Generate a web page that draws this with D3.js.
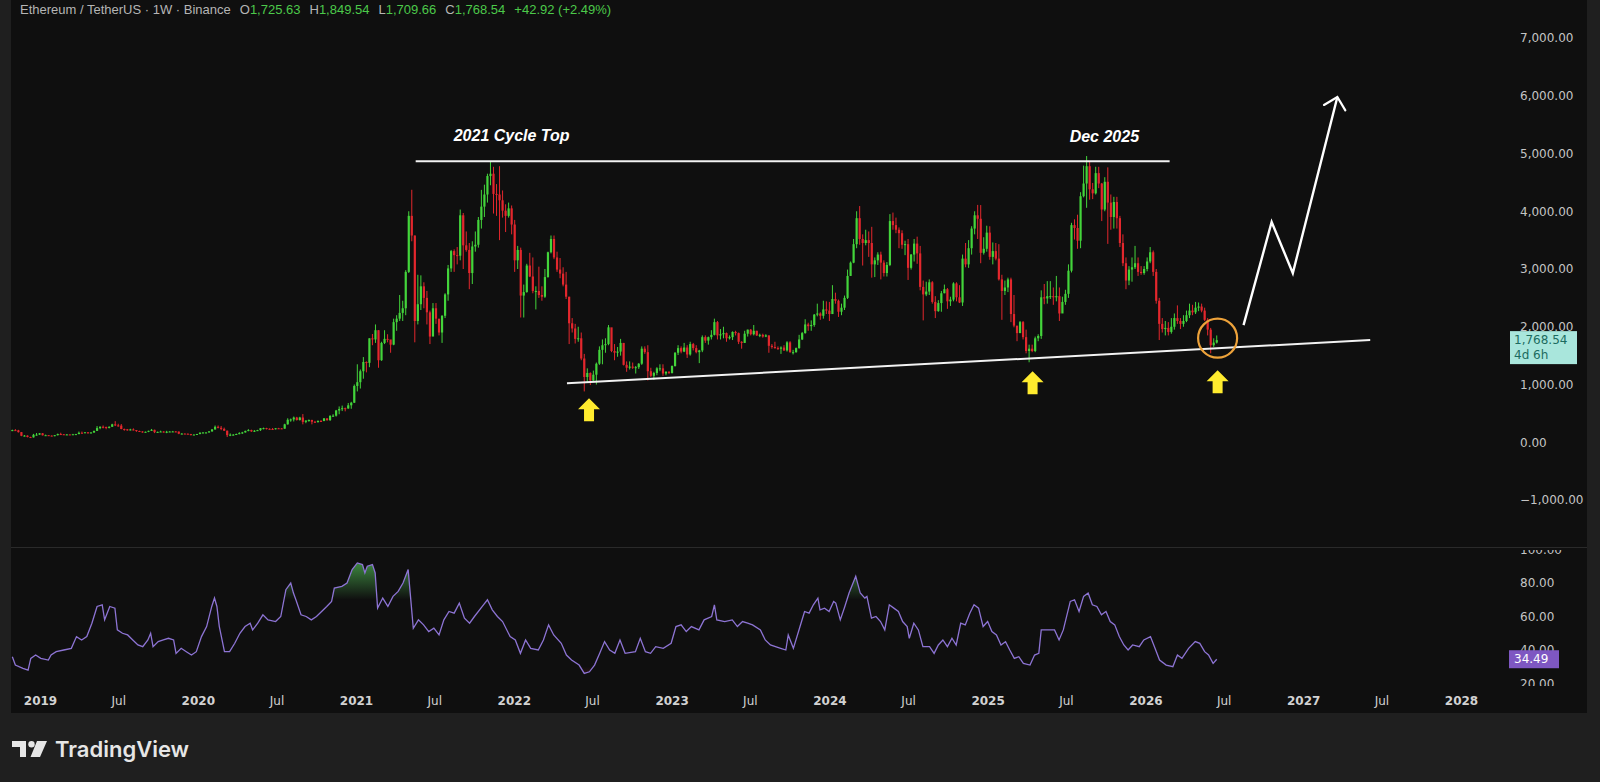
<!DOCTYPE html>
<html>
<head>
<meta charset="utf-8">
<script src="https://cdn.jsdelivr.net/npm/d3@7"></script>
<style>
  html, body { margin: 0; background: #1f1f1f; overflow: hidden; }
  svg { display: block; }
</style>
</head>
<body>
<svg id="chart" width="1600" height="782"></svg>
<script>
// weekly candles (open = previous close)
const firstWeek = "2018-10-29";
const firstOpen = 205;

const closes = [
  210,206,175,112,115,90,84,130,132,155,
  120,122,115,107,122,142,138,132,135,134,
  138,141,164,162,172,155,170,197,245,268,
  265,248,268,310,292,288,229,224,206,222,
  211,195,187,178,181,198,215,174,180,186,
  172,182,186,187,185,148,150,148,141,133,
  133,143,165,169,170,189,223,267,250,231,
  200,123,131,132,143,158,170,197,211,188,
  199,209,243,245,233,230,225,242,240,235,
  310,389,395,428,385,428,353,375,385,355,
  353,368,366,413,384,455,460,550,575,590,
  585,640,685,975,1040,1230,1390,1375,1800,1780,
  1940,1420,1720,1790,1780,1690,2080,2140,2240,2320,
  2950,3920,3580,2100,2390,2700,2500,2250,1830,2320,
  2140,1900,2190,2560,3010,3310,3240,3230,3930,3410,
  3330,2930,3390,3420,3850,4080,4290,4610,4650,4300,
  4290,4190,4010,3920,4050,3770,3150,3330,2540,2600,
  3060,2870,2620,2620,2550,2520,2860,3290,3520,3200,
  2990,2920,2730,2520,2060,1970,1790,1800,1450,1130,
  1200,1070,1170,1360,1600,1680,1700,1990,1580,1550,
  1570,1720,1340,1290,1310,1290,1300,1360,1620,1560,
  1230,1150,1200,1280,1280,1190,1220,1200,1320,1550,
  1630,1570,1640,1520,1700,1630,1560,1590,1820,1760,
  1820,1860,2080,1850,1870,1890,1800,1820,1910,1890,
  1740,1720,1880,1950,1870,1930,1850,1860,1830,1850,
  1670,1650,1630,1620,1640,1590,1730,1560,1560,1630,
  1780,1890,2040,2010,2030,2210,2230,2190,2300,2280,
  2220,2480,2450,2260,2330,2500,2880,3110,3430,3880,
  3520,3450,3500,3450,3080,3150,3250,3110,2930,3070,
  3830,3760,3680,3620,3420,3430,3020,3250,3440,3270,
  2690,2560,2610,2770,2430,2270,2410,2580,2650,2440,
  2470,2750,2510,2420,3180,3080,3360,3700,3930,3870,
  3280,3350,3630,3210,3310,3180,2820,2620,2680,2820,
  2220,2020,1890,2080,1820,1580,1620,1580,1800,1840,
  2510,2490,2530,2530,2510,2530,2230,2430,2570,2970,
  3760,3710,3490,4260,4480,4780,4380,4310,4660,4480,
  4030,4510,4150,3900,4160,3880,3450,3100,2800,2990,
  3030,3100,2950,2930,3000,3130,3290,2950,2450,2050,
  1960,1980,1910,2000,2150,2100,2050,2100,2200,2280,
  2250,2330,2350,2280,2120,1950,1680,1725.63,1768.54
];

const highs = [
  218,228,215,178,125,120,95,145,160,160,
  160,132,125,118,125,150,165,142,140,138,
  145,145,185,185,175,175,172,200,280,275,
  290,270,275,320,365,320,315,237,230,233,
  240,212,200,190,185,200,230,218,184,200,
  190,198,191,196,192,185,157,152,151,145,
  135,145,172,175,172,190,225,290,290,282,
  253,202,153,141,150,174,180,200,227,218,
  210,215,246,253,250,240,247,245,249,245,
  320,415,410,445,440,440,488,380,395,390,
  370,380,385,420,415,470,485,560,620,635,
  600,680,700,1000,1350,1260,1475,1400,1800,1875,
  2040,1940,1740,1940,1870,1740,2140,2200,2550,2450,
  2980,4000,4372,3580,2900,2890,2770,2620,2280,2410,
  2410,2130,2200,2580,3070,3330,3340,3380,4030,3970,
  3650,3450,3480,3650,3900,4370,4460,4650,4868,4770,
  4470,4780,4360,4120,4150,4100,3850,3400,3370,2730,
  3090,3280,3200,2700,3040,2700,3000,3300,3580,3580,
  3300,3190,3030,2950,2520,2150,2050,2000,1900,1530,
  1280,1210,1240,1380,1660,1780,1800,2030,1960,1700,
  1650,1790,1720,1400,1400,1380,1320,1370,1660,1660,
  1680,1290,1220,1300,1350,1350,1230,1230,1330,1560,
  1680,1660,1720,1680,1740,1720,1680,1600,1850,1850,
  1830,1940,2140,2100,1960,2000,1900,1850,1920,1930,
  1900,1750,1930,1950,1960,2030,1930,1880,1880,1870,
  1850,1700,1740,1660,1660,1680,1750,1750,1600,1640,
  1860,1910,2130,2070,2110,2220,2400,2250,2450,2440,
  2430,2720,2590,2470,2400,2540,2990,3130,3520,4000,
  4090,3600,3680,3650,3730,3200,3290,3300,3150,3120,
  3950,3977,3890,3720,3670,3490,3520,3260,3520,3560,
  3400,2800,2780,2820,2790,2530,2460,2620,2730,2670,
  2520,2770,2770,2720,3250,3450,3500,3740,4000,4110,
  4107,3550,3750,3740,3460,3450,3430,2900,2800,2850,
  2850,2550,2010,2100,2100,1950,1690,1690,1830,1870,
  2630,2740,2790,2790,2680,2880,2680,2520,2640,3080,
  3800,3860,3940,4330,4790,4956,4860,4490,4770,4770,
  4490,4590,4760,4290,4250,4250,3920,3600,3200,3050,
  3200,3400,3200,3050,3050,3200,3380,3320,3000,2500,
  2150,2100,2080,2150,2230,2370,2150,2200,2280,2400,
  2380,2430,2420,2400,2330,2150,1980,1800,1849.54
];

const lows = [
  193,200,168,105,102,85,82,82,115,128,
  118,115,112,104,104,118,130,128,126,130,
  132,133,140,160,160,150,152,160,195,225,
  240,225,240,265,280,270,225,200,200,205,
  205,180,178,165,169,175,195,158,165,178,
  168,157,176,180,174,140,138,142,139,118,
  125,126,137,155,155,165,180,215,241,209,
  195,90,106,117,125,138,145,167,190,180,
  177,195,196,224,222,220,218,222,234,230,
  233,305,355,360,375,375,310,330,355,310,
  335,338,355,368,370,368,440,445,485,540,
  535,580,580,680,880,930,1100,1210,1300,1680,
  1720,1290,1410,1700,1730,1550,1680,1930,2100,2100,
  2200,2930,3480,1730,2040,2290,2320,2040,1700,1960,
  2050,1850,1720,2150,2450,2950,2950,3080,3150,3000,
  3300,2650,2740,3300,3370,3700,3900,4150,4450,3960,
  3920,3500,3890,3640,3890,3600,2950,3000,2160,2160,
  2590,2860,2580,2300,2500,2450,2500,2850,3270,3170,
  2950,2840,2700,2480,1700,1900,1710,1740,1420,880,
  1040,990,1050,1000,1340,1350,1550,1680,1560,1420,
  1480,1500,1330,1220,1260,1270,1190,1270,1340,1530,
  1070,1130,1080,1160,1230,1150,1160,1180,1190,1310,
  1510,1540,1560,1460,1500,1590,1540,1370,1560,1720,
  1690,1780,1850,1780,1780,1800,1740,1780,1770,1850,
  1700,1620,1720,1830,1850,1850,1840,1820,1810,1820,
  1550,1620,1620,1600,1530,1580,1570,1550,1520,1550,
  1620,1770,1880,1930,1930,2000,2180,2120,2140,2220,
  2100,2220,2400,2170,2200,2290,2480,2880,3100,3360,
  3420,3060,3410,3210,2850,2860,3070,2820,2870,2870,
  3050,3680,3620,3360,3350,3240,2810,2990,3130,3090,
  2630,2110,2530,2550,2400,2150,2260,2260,2580,2310,
  2360,2440,2440,2410,2360,3030,3020,3250,3600,3520,
  3100,3250,3300,3160,3080,3150,2800,2120,2550,2600,
  2080,1990,1750,1890,1780,1540,1385,1560,1560,1750,
  1790,2390,2400,2480,2380,2440,2100,2240,2380,2500,
  2940,3510,3350,3360,4240,4060,4200,4210,4290,4400,
  3830,4000,3435,3680,3700,3700,3380,3050,2650,2720,
  2780,3000,2880,2900,2900,2960,3100,2880,2400,1770,
  1900,1850,1850,1880,1950,2050,1960,2000,2080,2150,
  2200,2220,2270,2250,2100,1850,1540,1650,1709.66
];

// RSI(14) trace: position in weeks from firstWeek, value
const rsiAt = [
  0,1,3.5,5.2,6.1,7.7,9.4,11.9,12.8,14.5,17,19.5,21.2,22.9,24.6,26.3,28,29.7,30.5,32.2,
  33.9,34.7,36.4,38.1,39.8,41.5,43.1,44.8,45.7,46.5,48.2,49.9,51.6,53.3,54.1,55.8,57.5,59.2,60.8,62.5,
  64.2,65.9,66.8,67.6,68.4,70.1,71.8,73.5,75.2,76.9,78.6,79.4,81.1,82.8,84.5,87,88.7,90.4,92,92.9,
  93.7,95.4,97.1,98.8,100.5,102.2,103.9,105.5,106.4,108.9,110.6,112.3,114,115.7,116.5,117.3,119,119.9,120.7,122.4,
  124.1,125.8,127.5,129.1,130.8,132.5,134.2,135.9,137.6,139.3,141,142.6,144.3,146,147.7,149.4,151.1,152.7,155.3,157,
  158.6,160.3,162,164.5,166.2,167.9,169.6,171.3,173.8,175.5,177.2,178.9,181.4,183.1,184.8,187.3,189,190.7,192.4,194.1,
  195.7,197.4,199.1,200.8,202.5,205.9,207.5,209.2,210.9,212.6,215.1,217.7,219.3,221,222.7,224.4,226.9,228.6,231.1,232,
  232.8,235.4,237.9,239.6,241.3,243,244.6,247.2,248.8,250.5,253.9,255.6,256.4,258.1,260.3,261.8,263.3,264.7,266.2,266.9,
  268.4,269.9,271.4,272.1,273.6,275.1,276.5,278.7,280.2,281.7,282.4,283.9,285.4,286.9,288.3,289.8,291.3,292.8,294.2,295.7,
  296.4,297.9,299.4,300.9,303.1,304.6,306,307.5,309,310.5,311.9,313.4,314.9,316.4,317.8,319.3,320.8,322.3,323.7,325.2,
  326.7,328.2,329.6,331.1,332.6,334.1,336.3,337.8,339.2,340,342.2,344.4,345.9,347.3,349.6,351,352.5,354,355.5,356.9,
  358.4,359.9,361.4,362.8,364.3,365.8,367.3,368.7,370.2,372.4,373.9,376.1,377.6,379.1,381.3,383.5,385,386.5,388.7,390.9,
  392.4,394,395.3,396.8,398
];
const rsiValues = [
  36,31,29,28,35,37,35,34,37,39,40,41,48,46,48,56,66,67,58,66,
  65,52,50,49,46,43,42,46,50,42,45,46,47,46,38,41,39,37,39,48,
  54,66,71,66,54,39,39,44,50,54,56,52,56,61,58,57,60,76,80,74,
  70,61,60,58,60,63,66,69,77,78,80,88,92,91,86,90,91,86,65,71,
  66,72,75,80,88,53,58,55,51,53,49,58,63,62,68,59,56,60,66,70,
  64,60,57,48,46,38,46,41,40,46,55,49,44,37,34,31,26,27,31,38,
  45,40,38,46,38,39,47,39,38,42,41,44,54,55,51,54,52,58,60,67,
  58,57,58,54,57,56,55,52,46,43,41,40,49,41,54,63,62,67,71,64,
  65,63,69,68,58,66,74,84,74,71,72,59,60,57,52,67,65,63,57,54,
  47,56,52,42,42,38,43,46,42,47,43,56,55,62,67,65,54,57,51,49,
  43,45,40,35,36,32,31,37,38,52,52,52,46,52,69,70,63,72,74,67,
  66,61,63,57,55,48,43,40,43,42,46,48,41,34,31,30,37,35,41,45,
  44,39,37,32,34.49
];

const priceTicks = [-1000, 0, 1000, 2000, 3000, 4000, 5000, 6000, 7000];
const rsiTicks = [20, 40, 60, 80, 100];

const legendTitle = "Ethereum / TetherUS · 1W · Binance";
const legendLabels = ["O", "H", "L", "C"];
const legendValues = ["1,725.63", "1,849.54", "1,709.66", "1,768.54"];
const legendChange = "+42.92 (+2.49%)";
const countdown = "4d 6h";

// drawn annotations, in [date, price]
const topLine = [["2021-05-19", 4865], ["2026-02-26", 4865]];
const supportLine = [["2022-05-04", 1020], ["2027-06-05", 1770]];
const forecastPath = [["2026-08-16", 2028], ["2026-10-20", 3813], ["2026-12-08", 2929], ["2027-03-21", 5979]];
const upArrows = [["2022-06-24", 763], ["2025-04-15", 1230], ["2026-06-17", 1248]];
const ring = ["2026-06-17", 1802];
const notes = [["2021 Cycle Top", "2021-12-27", 5320], ["Dec 2025", "2025-09-28", 5286]];

// ---- layout ----
const panel = { left: 11, right: 1587, bottom: 713 };
const plotRight = 1508, priceBottom = 547, rsiTop = 548, rsiBottom = 686;
const up = "#43d43b", down = "#e3272d";
const axisFont = "'DejaVu Sans', sans-serif";

const parse = d3.utcParse("%Y-%m-%d");
const start = parse(firstWeek);
const bars = closes.map((c, i) => ({
  date: d3.utcDay.offset(start, 7 * i),
  o: i ? closes[i - 1] : firstOpen,
  h: highs[i], l: lows[i], c
}));
const rsi = rsiAt.map((w, i) => ({ date: d3.utcHour.offset(start, Math.round(w * 168)), v: rsiValues[i] }));

const x = d3.scaleUtc().domain([parse("2019-01-01"), parse("2028-01-01")]).range([40, 1461]);
const y = d3.scaleLinear().domain([-1000, 7000]).range([500, 38]);
const yRsi = d3.scaleLinear().domain([0, 100]).range([717, 549.5]);
const px = d => x(parse(d[0]));
const py = d => y(d[1]);

const svg = d3.select("#chart");
const defs = svg.append("defs");
const clip = (id, x0, y0, x1, y1) => defs.append("clipPath").attr("id", id).append("rect")
  .attr("x", x0).attr("y", y0).attr("width", x1 - x0).attr("height", y1 - y0);
clip("c-price", panel.left, 0, plotRight, priceBottom);
clip("c-rsi", panel.left, rsiTop, plotRight, rsiBottom);
clip("c-ob", panel.left, rsiTop, plotRight, yRsi(70));
clip("c-os", panel.left, yRsi(30), plotRight, rsiBottom);
clip("c-axp", plotRight, 0, panel.right, priceBottom);
clip("c-axr", plotRight, 550, panel.right, rsiBottom);

const ob = defs.append("linearGradient").attr("id", "g-ob").attr("gradientUnits", "userSpaceOnUse")
  .attr("x1", 0).attr("x2", 0).attr("y1", yRsi(95)).attr("y2", yRsi(70));
ob.append("stop").attr("offset", 0).attr("stop-color", "#4caf50").attr("stop-opacity", 0.85);
ob.append("stop").attr("offset", 1).attr("stop-color", "#4caf50").attr("stop-opacity", 0);
const os = defs.append("linearGradient").attr("id", "g-os").attr("gradientUnits", "userSpaceOnUse")
  .attr("x1", 0).attr("x2", 0).attr("y1", yRsi(30)).attr("y2", yRsi(5));
os.append("stop").attr("offset", 0).attr("stop-color", "#f23645").attr("stop-opacity", 0);
os.append("stop").attr("offset", 1).attr("stop-color", "#f23645").attr("stop-opacity", 0.8);

defs.append("marker").attr("id", "head").attr("markerUnits", "userSpaceOnUse")
  .attr("viewBox", "-14 -14 16 28").attr("markerWidth", 16).attr("markerHeight", 28)
  .attr("refX", 0).attr("refY", 0).attr("orient", "auto")
  .append("path").attr("d", "M-11,-11L0,0L-11,11")
  .attr("fill", "none").attr("stroke", "#fff").attr("stroke-width", 2.2).attr("stroke-linecap", "round");

// background
svg.append("rect").attr("width", 1600).attr("height", 782).attr("fill", "#1f1f1f");
svg.append("rect").attr("x", panel.left).attr("y", 0)
  .attr("width", panel.right - panel.left).attr("height", panel.bottom).attr("fill", "#0f0f0f");
svg.append("line").attr("x1", panel.left).attr("x2", panel.right)
  .attr("y1", priceBottom + 0.5).attr("y2", priceBottom + 0.5).attr("stroke", "#2a2a2a");

// candles
const gPrice = svg.append("g").attr("clip-path", "url(#c-price)");
const color = d => d.c >= d.o ? up : down;
gPrice.selectAll(".wick").data(bars).join("line").attr("class", "wick")
  .attr("x1", d => x(d.date)).attr("x2", d => x(d.date))
  .attr("y1", d => y(d.h)).attr("y2", d => y(d.l))
  .attr("stroke", color).attr("stroke-width", 1);
gPrice.selectAll(".body").data(bars).join("rect").attr("class", "body")
  .attr("x", d => x(d.date) - 1.1).attr("width", 2.2)
  .attr("y", d => y(Math.max(d.o, d.c)))
  .attr("height", d => Math.max(1, Math.abs(y(d.o) - y(d.c))))
  .attr("fill", color);

// drawings
const seg = d3.line().x(px).y(py);
gPrice.append("path").attr("d", seg(topLine)).attr("stroke", "#f2f2f2").attr("stroke-width", 2).attr("fill", "none");
gPrice.append("path").attr("d", seg(supportLine)).attr("stroke", "#f2f2f2").attr("stroke-width", 2).attr("fill", "none");
gPrice.append("path").attr("d", seg(forecastPath)).attr("stroke", "#fff").attr("stroke-width", 2.4)
  .attr("fill", "none").attr("stroke-linejoin", "miter").attr("marker-end", "url(#head)");
gPrice.append("circle").attr("cx", px(ring)).attr("cy", py(ring)).attr("r", 19.5)
  .attr("fill", "none").attr("stroke", "#eda23a").attr("stroke-width", 2.2);
gPrice.selectAll(".up").data(upArrows).join("path").attr("class", "up")
  .attr("transform", d => `translate(${px(d)},${py(d)})`)
  .attr("d", "M0,0L11,11L5,11L5,23L-5,23L-5,11L-11,11Z").attr("fill", "#ffeb2e");
gPrice.selectAll(".note").data(notes).join("text").attr("class", "note")
  .attr("x", d => x(parse(d[1]))).attr("y", d => y(d[2]))
  .attr("text-anchor", "middle").attr("dominant-baseline", "central")
  .style("font", "italic bold 16px 'Liberation Sans', sans-serif").attr("fill", "#fff")
  .text(d => d[0]);

// rsi pane
const gRsi = svg.append("g").attr("clip-path", "url(#c-rsi)");
const rsiArea = d3.area().x(d => x(d.date)).y1(d => yRsi(d.v));
gRsi.append("g").attr("clip-path", "url(#c-ob)").append("path")
  .attr("d", rsiArea.y0(yRsi(70))(rsi)).attr("fill", "url(#g-ob)");
gRsi.append("g").attr("clip-path", "url(#c-os)").append("path")
  .attr("d", rsiArea.y0(yRsi(30))(rsi)).attr("fill", "url(#g-os)");
gRsi.append("path").attr("d", d3.line().x(d => x(d.date)).y(d => yRsi(d.v))(rsi))
  .attr("fill", "none").attr("stroke", "#8d74d4").attr("stroke-width", 1.3);

// axes
const styleAxis = (g, fill) => {
  g.select(".domain").remove();
  g.selectAll("text").attr("fill", fill).style("font-family", axisFont).style("font-size", "12px");
};
svg.append("g").attr("clip-path", "url(#c-axp)").append("g")
  .attr("transform", `translate(${plotRight},0)`)
  .call(d3.axisRight(y).tickValues(priceTicks).tickFormat(d3.format(",.2f")).tickSize(0).tickPadding(12))
  .call(g => styleAxis(g, "#c4c4c4"));
svg.append("g").attr("clip-path", "url(#c-axr)").append("g")
  .attr("transform", `translate(${plotRight},0)`)
  .call(d3.axisRight(yRsi).tickValues(rsiTicks).tickFormat(d3.format(".2f")).tickSize(0).tickPadding(12))
  .call(g => styleAxis(g, "#c4c4c4"));
svg.append("g").attr("transform", `translate(0,701)`)
  .call(d3.axisBottom(x).ticks(d3.utcMonth.every(6)).tickSize(0)
    .tickFormat(d => d.getUTCMonth() === 0 ? d3.utcFormat("%Y")(d) : "Jul"))
  .call(g => styleAxis(g, "#d2d2d2"))
  .call(g => g.selectAll("text").attr("y", 0).attr("dy", "0.35em")
    .attr("font-weight", d => d.getUTCMonth() === 0 ? 700 : 400));

// last price and rsi labels
const last = bars[bars.length - 1];
const ly = y(last.c);
svg.append("rect").attr("x", 1510).attr("y", ly - 9).attr("width", 67).attr("height", 33).attr("fill", "#a9e6dc");
svg.append("text").attr("x", 1514).attr("y", ly).attr("dominant-baseline", "central")
  .style("font", `12px ${axisFont}`).attr("fill", "#1c6b60").text(d3.format(",.2f")(last.c));
svg.append("text").attr("x", 1514).attr("y", ly + 15).attr("dominant-baseline", "central")
  .style("font", `12px ${axisFont}`).attr("fill", "#1c6b60").text(countdown);
const lastRsi = rsiValues[rsiValues.length - 1];
svg.append("rect").attr("x", 1509).attr("y", yRsi(lastRsi) - 9).attr("width", 50).attr("height", 18).attr("fill", "#7e57c2");
svg.append("text").attr("x", 1514).attr("y", yRsi(lastRsi)).attr("dominant-baseline", "central")
  .style("font", `12px ${axisFont}`).attr("fill", "#fff").text(d3.format(".2f")(lastRsi));

// legend
const legend = svg.append("text").attr("x", 20).attr("y", 14)
  .style("font", "13px 'Liberation Sans', sans-serif");
legend.append("tspan").attr("fill", "#b5b5b5").text(legendTitle);
legendLabels.forEach((lab, i) => {
  legend.append("tspan").attr("dx", 9).attr("fill", "#b5b5b5").text(lab);
  legend.append("tspan").attr("fill", "#4cc94a").text(legendValues[i]);
});
legend.append("tspan").attr("dx", 9).attr("fill", "#4cc94a").text(legendChange);

// TradingView mark
const logo = svg.append("g").attr("transform", "translate(12,741)").attr("fill", "#e6e6e6");
logo.append("rect").attr("x", 0).attr("y", 0).attr("width", 14).attr("height", 6);
logo.append("rect").attr("x", 8).attr("y", 0).attr("width", 6).attr("height", 16);
logo.append("circle").attr("cx", 19.5).attr("cy", 3.2).attr("r", 3.2);
logo.append("path").attr("d", "M25,0L35,0L28,16L18.5,16Z");
svg.append("text").attr("x", 55).attr("y", 757)
  .style("font", "600 22px Inter, sans-serif").attr("fill", "#e6e6e6").text("TradingView");
</script>
</body>
</html>
